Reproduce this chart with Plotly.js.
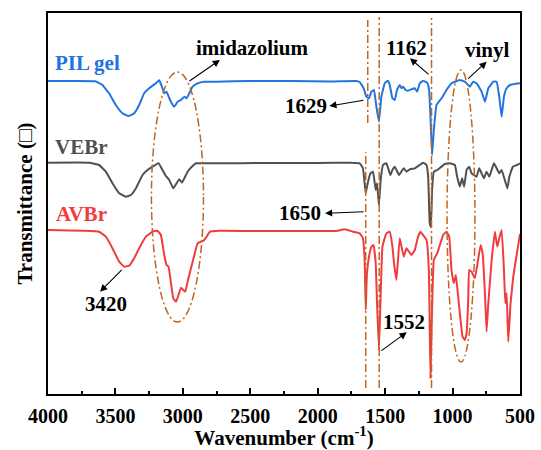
<!DOCTYPE html>
<html>
<head>
<meta charset="utf-8">
<script src="https://cdn.plot.ly/plotly-3.0.1.min.js"></script>
<style>html,body{margin:0;padding:0;background:#fff;}#chart{width:541px;height:450px;}</style>
</head>
<body>
<div id="chart"></div>
<script>
// Wavenumber (cm-1) and offset transmittance (arbitrary units)
const wnPIL = [4000,3800,3650,3600,3547,3497,3448,3403,3361,3324,3287,3250,3200,3175,3155,3138,3121,3095,3064,3039,3014,2989,2972,2952,2928,2891,2841,2754,2500,2200,1900,1720,1689,1660,1639,1620,1602,1583,1565,1546,1528,1503,1479,1466,1446,1429,1412,1392,1379,1367,1347,1330,1305,1280,1263,1243,1219,1189,1174,1164,1152,1139,1119,1082,1045,1008,946,909,872,847,822,785,760,735,698,673,654,636,619,599,574,500];
const tPIL = [313,313,312.7,309.5,300.7,289,280.7,278,280.7,289,300.7,305.7,310.7,313.7,307.3,300.7,302.3,294,287.3,292.3,294,297.3,295.7,300.7,307.3,310.7,312.3,312.3,313,313,312.5,313,312,306,297.3,295.7,302.3,304,287.3,272.3,297.3,310.7,313.3,309,295.7,294,304,309,305.7,307.3,304,303.3,304.7,305.7,302.3,310.7,313.3,311.3,304,277.3,239,264,289,295.7,304,310.7,314,312.3,307.3,312.3,310.7,302.3,292.3,305.7,312.3,312.3,297.3,277.3,297.3,305.7,309,310.7];

const wnVEBr = [4000,3695,3621,3571,3522,3472,3423,3385,3348,3299,3262,3225,3180,3151,3131,3101,3071,3047,3027,3007,2989,2965,2928,2902,2754,2400,2000,1763,1689,1665,1652,1644,1627,1609,1590,1570,1560,1546,1533,1516,1491,1461,1446,1429,1397,1362,1342,1317,1280,1243,1219,1193,1181,1169,1161,1152,1139,1114,1057,1020,983,966,946,929,914,896,877,859,822,802,785,767,748,728,693,654,636,594,579,553,523,500];
const tVEBr = [231.3,231.3,229,222.3,210.7,200.7,197.3,199,205.7,219,224,227.3,230.7,224,219,214,205.7,210.7,214.7,211.3,215.7,222.3,228,230.7,230.7,231,231,231.3,230.7,226,210.7,200.7,212.3,220.7,222.3,204,210.7,189,214,229,230.7,219,224,227.3,219,225.7,222.3,224.7,225.7,229,231.3,229,217.3,170.7,167.3,204,222.3,224,230,230.7,229,217.3,207.3,215.7,207.3,224,227.3,220.7,217.3,225.7,220.7,215.7,222.3,217.3,230.7,220.7,224,205.7,217.3,227.3,229,230.7];

const wnAVBr = [4000,3621,3571,3522,3472,3435,3398,3361,3324,3274,3225,3188,3163,3138,3121,3106,3088,3071,3051,3032,3014,2997,2982,2965,2940,2915,2891,2865,2841,2824,2798,2729,2400,2100,1862,1800,1738,1689,1665,1652,1644,1635,1620,1602,1586,1570,1560,1546,1535,1520,1491,1466,1446,1434,1416,1392,1362,1342,1305,1280,1256,1238,1219,1193,1176,1164,1154,1139,1114,1094,1070,1045,1025,1008,991,976,966,941,926,909,896,884,877,859,835,792,777,760,748,735,710,686,669,654,636,619,609,599,587,570,550,523,500];
const tAVBr = [164,162.3,157.3,145.7,132.3,127.3,128.3,135.7,145.7,157.3,162.3,163.3,159,139,129,127.3,110.7,95.7,92.3,99,106.3,104,102.3,112.3,125.7,139,150.7,152.3,154,157.3,162.3,163.3,163,163,163,164.7,162.3,160.7,156,134,84,120.7,137.3,147.3,149,130.7,90.7,44,90.7,147.3,160.7,162.3,147.3,130.7,114,155.7,137.3,145.7,139,144,157.3,162.3,159,154,124,16,74,134,140.7,149,159,162.3,157.3,124,110.7,119,107.3,74,57.3,54,60.7,94,124,122.3,115.7,149,140.7,100.7,62.3,90.7,134,162.3,147.3,155.7,164,124,90.7,100.7,52.3,90.7,117.3,140.7,160];

const xTicks = [4000,3500,3000,2500,2000,1500,1000,500];
const seriesNames = ['PIL gel','VEBr','AVBr'];
const seriesColors = ['#2274E0','#505050','#F03C3E'];

const FONT = 'Liberation Serif, Times New Roman, serif';
const BROWN = '#C0661E';
const DASH = '8px,3px,2px,3px';
const NB = '\u00a0';

const traces = [
  {x: wnPIL, y: tPIL, name: seriesNames[0], color: seriesColors[0]},
  {x: wnVEBr, y: tVEBr, name: seriesNames[1], color: seriesColors[1]},
  {x: wnAVBr, y: tAVBr, name: seriesNames[2], color: seriesColors[2]}
].map(s => ({x: s.x, y: s.y, name: s.name, type: 'scatter', mode: 'lines',
  line: {color: s.color, width: 2, shape: 'spline', smoothing: 0.3}, showlegend: false, hoverinfo: 'skip'}));

function vline(x, y0, y1) {
  return {type: 'line', xref: 'x', yref: 'y', x0: x, x1: x, y0: y0, y1: y1,
    line: {color: BROWN, width: 1.5, dash: DASH}};
}
function ell(x0, x1, y0, y1) {
  return {type: 'circle', xref: 'x', yref: 'y', x0: x0, x1: x1, y0: y0, y1: y1,
    line: {color: BROWN, width: 1.5, dash: DASH}};
}
const shapes = [
  vline(1629, 271, 374),
  vline(1544, 6, 377),
  vline(1156, 6, 376),
  vline(1644, 6, 242),
  ell(3233, 2847, 72, 322),
  ell(1041, 834, 32, 324)
];

function arrow(hx, hy, tx, ty) {
  return {x: hx, y: hy, ax: tx, ay: ty, xref: 'x', yref: 'y', axref: 'x', ayref: 'y',
    text: '', showarrow: true, arrowhead: 2, arrowsize: 1.3, arrowwidth: 1.1, arrowcolor: '#000', standoff: 0, startstandoff: 0};
}
function label(x, y, txt, color, size) {
  return {x: x, y: y, xref: 'x', yref: 'y', text: txt, showarrow: false, xanchor: 'center', yanchor: 'middle',
    font: {family: FONT, size: size || 21, color: color || '#000', weight: 'bold'}};
}
const annotations = [
  arrow(2725, 334, 2962, 312),
  arrow(1316, 335.7, 1167, 318.3),
  arrow(747, 332.3, 895, 314),
  arrow(1914, 288, 1649, 294),
  arrow(1946, 180.7, 1649, 182.3),
  arrow(3614, 102.3, 3442, 125.7),
  arrow(1340, 61.7, 1538, 42.3),
  label(2480, 346, 'imidazolium'),
  label(1340, 346, '1162'),
  label(741, 344, 'vinyl'),
  label(2088, 288, '1629'),
  label(2131, 181, '1650'),
  label(3571, 90, '3420'),
  label(1360, 72, '1552'),
  label(3709, 331, seriesNames[0], seriesColors[0]),
  label(3748, 247, seriesNames[1], seriesColors[1]),
  label(3750, 180, seriesNames[2], seriesColors[2])
];

const layout = {
  width: 541, height: 450,
  margin: {l: 48, r: 21, t: 13, b: 56},
  paper_bgcolor: '#fff', plot_bgcolor: '#fff',
  font: {family: FONT, color: '#000'},
  xaxis: {
    range: [4000, 500], tickvals: xTicks, ticktext: xTicks.map(String),
    showline: true, mirror: true, linecolor: '#000', linewidth: 2,
    ticks: 'inside', ticklen: 6, tickwidth: 2, tickcolor: '#000',
    minor: {dtick: 250, tick0: 0, ticks: 'inside', ticklen: 3, tickwidth: 2, tickcolor: '#000'},
    showgrid: false, zeroline: false,
    tickfont: {family: FONT, size: 20, color: '#000', weight: 'bold'},
    ticklabelstandoff: 3,
    title: {text: NB + NB + NB + NB + 'Wavenumber (cm<sup>-1</sup>)', font: {family: FONT, size: 21, color: '#000', weight: 'bold'}, standoff: 4}
  },
  yaxis: {
    range: [0, 381], showline: true, mirror: true, linecolor: '#000', linewidth: 2,
    ticks: '', showticklabels: false, showgrid: false, zeroline: false,
    title: {text: NB + NB + NB + 'Transmittance (\u25A1)', font: {family: FONT, size: 21, color: '#000', weight: 'bold'}, standoff: 8}
  },
  shapes: shapes,
  annotations: annotations
};

Plotly.newPlot('chart', traces, layout, {staticPlot: true, displayModeBar: false});
</script>
</body>
</html>
